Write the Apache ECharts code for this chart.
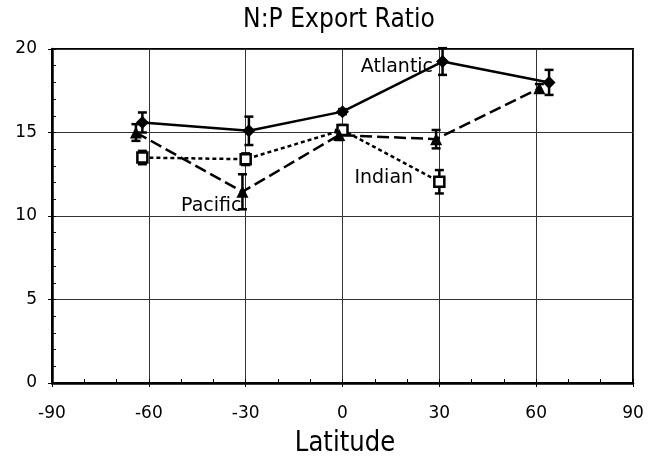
<!DOCTYPE html>
<html><head><meta charset="utf-8">
<script src="https://cdn.jsdelivr.net/npm/echarts@6/dist/echarts.min.js"></script>
<style>html,body{margin:0;padding:0;background:#fff}#c{width:655px;height:457px}</style>
</head><body><div id="c"></div>
<script>
const xTicks = [-90, -60, -30, 0, 30, 60, 90];
const yTicks = [0, 5, 10, 15, 20];
const atlanticLat = [-62, -29, 0, 31, 64];
const atlanticVal = [15.6, 15.1, 16.25, 19.25, 18.0];
const atlanticErr = [0.6, 0.85, 0.15, 0.8, 0.75];
const pacificLat = [-64, -31, -1, 29, 61];
const pacificVal = [15.0, 11.45, 14.85, 14.6, 17.65];
const pacificErr = [0.5, 1.05, 0.3, 0.55, 0.25];
const indianLat = [-62, -30, 0, 30];
const indianVal = [13.5, 13.4, 15.15, 12.05];
const indianErr = [0.4, 0.35, 0.3, 0.7];

const FONT = 'DejaVu Sans';
const chart = echarts.init(document.getElementById('c'), null, {renderer: 'canvas'});

function pts(lat, val, labelIdx, labelText, labelOpt) {
  return lat.map((x, i) => {
    const d = {value: [x, val[i]]};
    if (i === labelIdx) {
      d.label = Object.assign({show: true, formatter: labelText, color: '#000', fontFamily: FONT, fontSize: 19}, labelOpt);
    }
    return d;
  });
}
function errs(lat, val, err) {
  return lat.map((x, i) => [x, val[i], err[i]]);
}
function errRender(params, api) {
  const x = api.value(0), y = api.value(1), e = api.value(2);
  const top = api.coord([x, y + e]);
  const bot = api.coord([x, y - e]);
  const hw = 4.5;
  const st = {stroke: '#000', lineWidth: 2.5};
  return {type: 'group', children: [
    {type: 'line', shape: {x1: top[0], y1: top[1], x2: bot[0], y2: bot[1]}, style: st},
    {type: 'line', shape: {x1: top[0] - hw, y1: top[1], x2: top[0] + hw, y2: top[1]}, style: st},
    {type: 'line', shape: {x1: bot[0] - hw, y1: bot[1], x2: bot[0] + hw, y2: bot[1]}, style: st}
  ]};
}

const axisLabelStyle = {color: '#000', fontFamily: FONT, fontSize: 17};
const option = {
  animation: false,
  backgroundColor: '#fff',
  graphic: [
    {type: 'text', x: 339, y: 20, scaleX: 0.87, z: 10,
      style: {text: 'N:P Export Ratio', fontFamily: FONT, fontSize: 27, fill: '#000', align: 'center', verticalAlign: 'middle'}},
    {type: 'text', x: 345, y: 443, scaleX: 0.84, z: 10,
      style: {text: 'Latitude', fontFamily: FONT, fontSize: 29, fill: '#000', align: 'center', verticalAlign: 'middle'}}
  ],
  grid: {left: 52, right: 22, top: 49, bottom: 74, show: true, borderColor: '#000', borderWidth: 2, backgroundColor: 'transparent'},
  xAxis: [
    {type: 'value', min: xTicks[0], max: xTicks[xTicks.length - 1], interval: 30,
      axisLine: {show: true, onZero: false, lineStyle: {color: '#000', width: 2.5}},
      axisTick: {show: true, inside: false, length: 4, lineStyle: {color: '#000', width: 1}},
      axisLabel: Object.assign({margin: 22}, axisLabelStyle),
      splitLine: {show: true, lineStyle: {color: '#333', width: 1}}},
    {type: 'value', min: -90, max: 90, interval: 10, position: 'bottom',
      axisLine: {show: false, onZero: false}, axisLabel: {show: false}, splitLine: {show: false},
      axisTick: {show: true, inside: true, length: 4, lineStyle: {color: '#000', width: 1}}}
  ],
  yAxis: [
    {type: 'value', min: yTicks[0], max: yTicks[yTicks.length - 1], interval: 5,
      axisLine: {show: true, onZero: false, lineStyle: {color: '#000', width: 2.5}},
      axisTick: {show: true, inside: false, length: 4, lineStyle: {color: '#000', width: 1}},
      axisLabel: Object.assign({margin: 15}, axisLabelStyle),
      splitLine: {show: true, lineStyle: {color: '#333', width: 1}}},
    {type: 'value', min: 0, max: 20, interval: 1, position: 'left',
      axisLine: {show: false, onZero: false}, axisLabel: {show: false}, splitLine: {show: false},
      axisTick: {show: true, inside: true, length: 4, lineStyle: {color: '#000', width: 1}}}
  ],
  series: [
    {type: 'custom', name: 'errA', renderItem: errRender, data: errs(atlanticLat, atlanticVal, atlanticErr), z: 3, clip: false},
    {type: 'custom', name: 'errP', renderItem: errRender, data: errs(pacificLat, pacificVal, pacificErr), z: 3, clip: false},
    {type: 'custom', name: 'errI', renderItem: errRender, data: errs(indianLat, indianVal, indianErr), z: 3, clip: false},
    {type: 'line', name: 'Indian', data: pts(indianLat, indianVal, 3, 'Indian', {position: 'left', distance: 20, offset: [0, -4]}),
      symbol: 'rect', symbolSize: 10, showAllSymbol: true,
      itemStyle: {color: '#fff', borderColor: '#000', borderWidth: 2.5},
      lineStyle: {color: '#000', width: 2.5, type: [4, 3]}, z: 4},
    {type: 'line', name: 'Pacific', data: pts(pacificLat, pacificVal, 1, 'Pacific', {position: 'left', distance: 0, offset: [5, 14]}),
      symbol: 'triangle', symbolSize: 12,
      itemStyle: {color: '#000', borderColor: '#000', borderWidth: 0},
      lineStyle: {color: '#000', width: 2.5, type: [12, 5]}, z: 5},
    {type: 'line', name: 'Atlantic', data: pts(atlanticLat, atlanticVal, 3, 'Atlantic', {position: 'left', distance: 3, offset: [0, 6]}),
      symbol: 'diamond', symbolSize: 13,
      itemStyle: {color: '#000', borderColor: '#000', borderWidth: 0},
      lineStyle: {color: '#000', width: 2.5, type: 'solid'}, z: 6}
  ]
};
chart.setOption(option);
</script></body></html>
